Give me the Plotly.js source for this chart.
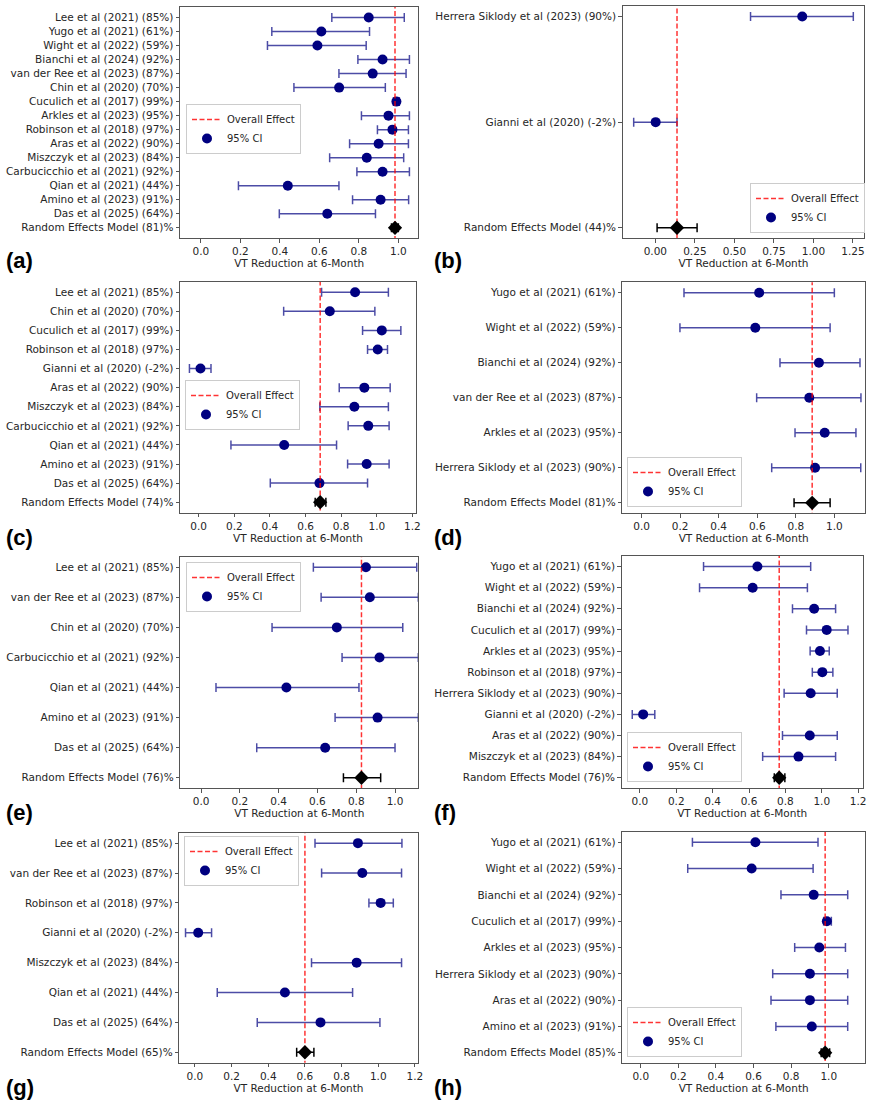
<!DOCTYPE html>
<html>
<head>
<meta charset="utf-8">
<script src="https://cdn.plot.ly/plotly-3.0.1.min.js"></script>
<style>
  html, body { margin: 0; padding: 0; background: #ffffff; }
  #chart { width: 872px; height: 1106px; }
</style>
</head>
<body>
<div id="chart"></div>
<script>
// Study-level VT reduction percentages shown next to each study name
const studyNames = ["Lee et al (2021)", "Yugo et al (2021)", "Wight et al (2022)", "Bianchi et al (2024)",
  "van der Ree et al (2023)", "Chin et al (2020)", "Cuculich et al (2017)", "Arkles et al (2023)",
  "Robinson et al (2018)", "Aras et al (2022)", "Miszczyk et al (2023)", "Carbucicchio et al (2021)",
  "Qian et al (2021)", "Amino et al (2023)", "Das et al (2025)", "Herrera Siklody et al (2023)",
  "Gianni et al (2020)"];
const studyPct = [85, 61, 59, 92, 87, 70, 99, 95, 97, 90, 84, 92, 44, 91, 64, 90, -2];

// (a) all studies
const namesA = ["Lee et al (2021)", "Yugo et al (2021)", "Wight et al (2022)", "Bianchi et al (2024)",
  "van der Ree et al (2023)", "Chin et al (2020)", "Cuculich et al (2017)", "Arkles et al (2023)",
  "Robinson et al (2018)", "Aras et al (2022)", "Miszczyk et al (2023)", "Carbucicchio et al (2021)",
  "Qian et al (2021)", "Amino et al (2023)", "Das et al (2025)"];
const estA = [0.85, 0.61, 0.59, 0.92, 0.87, 0.70, 0.99, 0.95, 0.97, 0.90, 0.84, 0.92, 0.44, 0.91, 0.64];
const loA  = [0.663, 0.359, 0.337, 0.795, 0.699, 0.471, 0.975, 0.813, 0.894, 0.753, 0.652, 0.790, 0.190, 0.768, 0.397];
const hiA  = [1.030, 0.854, 0.837, 1.056, 1.039, 0.934, 1.005, 1.056, 1.051, 1.051, 1.027, 1.056, 0.699, 1.052, 0.884];
const pooledA = [0.983, 0.965, 1.000];
const pooledPctA = 81;

// (b)
const namesB = ["Herrera Siklody et al (2023)", "Gianni et al (2020)"];
const estB = [0.929, 0.002];
const loB  = [0.602, -0.137];
const hiB  = [1.252, 0.137];
const pooledB = [0.137, 0.011, 0.264];
const pooledPctB = 44;

// (c)
const namesC = ["Lee et al (2021)", "Chin et al (2020)", "Cuculich et al (2017)", "Robinson et al (2018)",
  "Gianni et al (2020)", "Aras et al (2022)", "Miszczyk et al (2023)", "Carbucicchio et al (2021)",
  "Qian et al (2021)", "Amino et al (2023)", "Das et al (2025)"];
const estC = [0.878, 0.736, 1.028, 1.005, 0.010, 0.930, 0.874, 0.952, 0.480, 0.943, 0.678];
const loC  = [0.690, 0.477, 0.920, 0.948, -0.052, 0.789, 0.680, 0.839, 0.181, 0.836, 0.402];
const hiC  = [1.065, 0.989, 1.135, 1.060, 0.069, 1.075, 1.065, 1.069, 0.774, 1.069, 0.948];
const pooledC = [0.682, 0.654, 0.714];
const pooledPctC = 74;

// (d)
const namesD = ["Yugo et al (2021)", "Wight et al (2022)", "Bianchi et al (2024)", "van der Ree et al (2023)",
  "Arkles et al (2023)", "Herrera Siklody et al (2023)"];
const estD = [0.61, 0.59, 0.92, 0.87, 0.95, 0.90];
const loD  = [0.220, 0.199, 0.718, 0.597, 0.796, 0.675];
const hiD  = [1.000, 0.978, 1.133, 1.138, 1.112, 1.137];
const pooledD = [0.885, 0.791, 0.978];
const pooledPctD = 81;

// (e)
const namesE = ["Lee et al (2021)", "van der Ree et al (2023)", "Chin et al (2020)", "Carbucicchio et al (2021)",
  "Qian et al (2021)", "Amino et al (2023)", "Das et al (2025)"];
const estE = [0.85, 0.87, 0.70, 0.92, 0.44, 0.91, 0.64];
const loE  = [0.579, 0.619, 0.366, 0.727, 0.077, 0.691, 0.287];
const hiE  = [1.112, 1.120, 1.040, 1.120, 0.814, 1.120, 1.000];
const pooledE = [0.827, 0.734, 0.926];
const pooledPctE = 76;

// (f)
const namesF = ["Yugo et al (2021)", "Wight et al (2022)", "Bianchi et al (2024)", "Cuculich et al (2017)",
  "Arkles et al (2023)", "Robinson et al (2018)", "Herrera Siklody et al (2023)", "Gianni et al (2020)",
  "Aras et al (2022)", "Miszczyk et al (2023)"];
const estF = [0.646, 0.620, 0.958, 1.027, 0.990, 1.003, 0.939, 0.018, 0.934, 0.872];
const loF  = [0.350, 0.328, 0.839, 0.916, 0.936, 0.948, 0.793, -0.042, 0.784, 0.675];
const hiF  = [0.939, 0.921, 1.076, 1.144, 1.041, 1.061, 1.085, 0.082, 1.085, 1.076];
const pooledF = [0.766, 0.739, 0.797];
const pooledPctF = 76;

// (g)
const namesG = ["Lee et al (2021)", "van der Ree et al (2023)", "Robinson et al (2018)", "Gianni et al (2020)",
  "Miszczyk et al (2023)", "Qian et al (2021)", "Das et al (2025)"];
const estG = [0.889, 0.913, 1.013, 0.018, 0.882, 0.491, 0.685];
const loG  = [0.655, 0.691, 0.949, -0.051, 0.636, 0.122, 0.340];
const hiG  = [1.129, 1.127, 1.082, 0.091, 1.127, 0.860, 1.009];
const pooledG = [0.600, 0.555, 0.649];
const pooledPctG = 65;

// (h)
const namesH = ["Yugo et al (2021)", "Wight et al (2022)", "Bianchi et al (2024)", "Cuculich et al (2017)",
  "Arkles et al (2023)", "Herrera Siklody et al (2023)", "Aras et al (2022)", "Amino et al (2023)"];
const estH = [0.61, 0.59, 0.92, 0.99, 0.95, 0.90, 0.90, 0.91];
const loH  = [0.275, 0.250, 0.746, 0.973, 0.819, 0.702, 0.693, 0.719];
const hiH  = [0.943, 0.917, 1.101, 1.014, 1.089, 1.101, 1.101, 1.101];
const pooledH = [0.981, 0.960, 1.005];
const pooledPctH = 85;

const W = 872, H = 1106;
const FONT = "'DejaVu Sans', 'Bitstream Vera Sans', Verdana, sans-serif";
const FS = 10.5;
const LEGEND_FS = 10;

function pctOf(name) {
  return studyPct[studyNames.indexOf(name)];
}

// Panel placement: plot box [left, top, right, bottom] in page pixels
const panels = [
  { letter: 'a', names: namesA, est: estA, lo: loA, hi: hiA, pooled: pooledA, pooledPct: pooledPctA,
    box: [180, 7, 418.3, 238.3], range: [-0.106, 1.101], dtick: 0.2, fmt: '.1f',
    legend: [186, 104, 'top'], tag: [4, 261] },
  { letter: 'b', names: namesB, est: estB, lo: loB, hi: hiB, pooled: pooledB, pooledPct: pooledPctB,
    box: [622.7, 6, 864.3, 238.3], range: [-0.2065, 1.3215], dtick: 0.25, fmt: '.2f',
    legend: [750, 233, 'bottom'], tag: [432, 261] },
  { letter: 'c', names: namesC, est: estC, lo: loC, hi: hiC, pooled: pooledC, pooledPct: pooledPctC,
    box: [180, 281.7, 416, 512.7], range: [-0.105, 1.22], dtick: 0.2, fmt: '.1f',
    legend: [185, 380, 'top'], tag: [4, 537] },
  { letter: 'd', names: namesD, est: estD, lo: loD, hi: hiD, pooled: pooledD, pooledPct: pooledPctD,
    box: [622.3, 282.3, 865, 513.3], range: [-0.100, 1.159], dtick: 0.2, fmt: '.1f',
    legend: [627, 507, 'bottom'], tag: [432, 537] },
  { letter: 'e', names: namesE, est: estE, lo: loE, hi: hiE, pooled: pooledE, pooledPct: pooledPctE,
    box: [180.3, 556.7, 418.3, 788.3], range: [-0.107, 1.12], dtick: 0.2, fmt: '.1f',
    legend: [186, 562, 'top'], tag: [4, 812] },
  { letter: 'f', names: namesF, est: estF, lo: loF, hi: hiF, pooled: pooledF, pooledPct: pooledPctF,
    box: [621.7, 556, 862.7, 788.3], range: [-0.100, 1.225], dtick: 0.2, fmt: '.1f',
    legend: [627, 782, 'bottom'], tag: [432, 812] },
  { letter: 'g', names: namesG, est: estG, lo: loG, hi: hiG, pooled: pooledG, pooledPct: pooledPctG,
    box: [179.3, 832.7, 417.7, 1062.7], range: [-0.085, 1.215], dtick: 0.2, fmt: '.1f',
    legend: [184, 836, 'top'], tag: [4, 1087] },
  { letter: 'h', names: namesH, est: estH, lo: loH, hi: hiH, pooled: pooledH, pooledPct: pooledPctH,
    box: [622.3, 831.7, 865, 1063.3], range: [-0.098, 1.193], dtick: 0.2, fmt: '.1f',
    legend: [627, 1057, 'bottom'], tag: [432, 1087] }
];

const traces = [];
const layout = {
  width: W, height: H,
  margin: { l: 0, r: 0, t: 0, b: 0 },
  paper_bgcolor: '#ffffff',
  plot_bgcolor: '#ffffff',
  font: { family: FONT, size: FS, color: '#262626' },
  showlegend: true,
  annotations: []
};

panels.forEach((p, k) => {
  const suffix = k === 0 ? '' : String(k + 1);
  const xa = 'x' + suffix, ya = 'y' + suffix;
  const legendId = 'legend' + suffix;
  const n = p.names.length;
  const rows = p.names.map((_, i) => i);
  const tickText = p.names.map(nm => `${nm} (${pctOf(nm)}%)`)
    .concat([`Random Effects Model (${p.pooledPct})%`]);

  // study estimates with 95% CI
  traces.push({
    type: 'scatter', mode: 'markers', name: '95% CI',
    x: p.est, y: rows, xaxis: xa, yaxis: ya,
    legend: legendId, legendrank: 2,
    marker: { color: '#000080', size: 10 },
    error_x: {
      type: 'data', symmetric: false,
      array: p.hi.map((h, i) => h - p.est[i]),
      arrayminus: p.lo.map((l, i) => p.est[i] - l),
      color: 'rgba(0,0,128,0.7)', thickness: 1.5, width: 4.5
    },
    hoverinfo: 'skip'
  });

  // pooled effect reference line
  traces.push({
    type: 'scatter', mode: 'lines', name: 'Overall Effect',
    x: [p.pooled[0], p.pooled[0]], y: [-1, n + 1], xaxis: xa, yaxis: ya,
    legend: legendId, legendrank: 1,
    line: { color: 'rgba(255,0,0,0.8)', width: 1.5, dash: '5px,2.5px' },
    hoverinfo: 'skip'
  });

  // random effects summary diamond
  traces.push({
    type: 'scatter', mode: 'markers', name: 'Random Effects Model',
    x: [p.pooled[0]], y: [n], xaxis: xa, yaxis: ya,
    showlegend: false,
    marker: { symbol: 'diamond', color: '#000000', size: 11 },
    error_x: {
      type: 'data', symmetric: false,
      array: [p.pooled[2] - p.pooled[0]],
      arrayminus: [p.pooled[0] - p.pooled[1]],
      color: '#000000', thickness: 1.5, width: 4.5
    },
    hoverinfo: 'skip'
  });

  layout['xaxis' + suffix] = {
    domain: [p.box[0] / W, p.box[2] / W],
    anchor: ya,
    range: p.range,
    tick0: 0, dtick: p.dtick, tickformat: p.fmt,
    showline: true, mirror: true, linecolor: '#555555', linewidth: 1,
    ticks: 'outside', ticklen: 3.5, tickcolor: '#555555', tickwidth: 1,
    showgrid: false, zeroline: false, fixedrange: true,
    tickfont: { family: FONT, size: FS, color: '#262626' },
    title: { text: 'VT Reduction at 6-Month', font: { family: FONT, size: FS, color: '#262626' }, standoff: 2 }
  };
  layout['yaxis' + suffix] = {
    domain: [1 - p.box[3] / H, 1 - p.box[1] / H],
    anchor: xa,
    range: [n + 0.05 * n, -0.05 * n],
    tickmode: 'array',
    tickvals: rows.concat([n]),
    ticktext: tickText,
    showline: true, mirror: true, linecolor: '#555555', linewidth: 1,
    ticks: 'outside', ticklen: 3.5, tickcolor: '#555555', tickwidth: 1,
    showgrid: false, zeroline: false, fixedrange: true,
    tickfont: { family: FONT, size: FS, color: '#262626' }
  };
  layout[legendId] = {
    x: p.legend[0] / W, y: 1 - p.legend[1] / H,
    xanchor: 'left', yanchor: p.legend[2],
    bgcolor: 'rgba(255,255,255,0.85)', bordercolor: '#cccccc', borderwidth: 1,
    font: { family: FONT, size: LEGEND_FS, color: '#262626' },
    tracegroupgap: 0, itemwidth: 30
  };
  layout.annotations.push({
    xref: 'paper', yref: 'paper',
    x: p.tag[0] / W, y: 1 - p.tag[1] / H,
    xanchor: 'left', yanchor: 'middle',
    text: `<b>(${p.letter})</b>`, showarrow: false,
    font: { family: 'Liberation Sans', size: 22, color: '#000000' }
  });
});

Plotly.newPlot('chart', traces, layout, { staticPlot: true, displayModeBar: false });
</script>
</body>
</html>
